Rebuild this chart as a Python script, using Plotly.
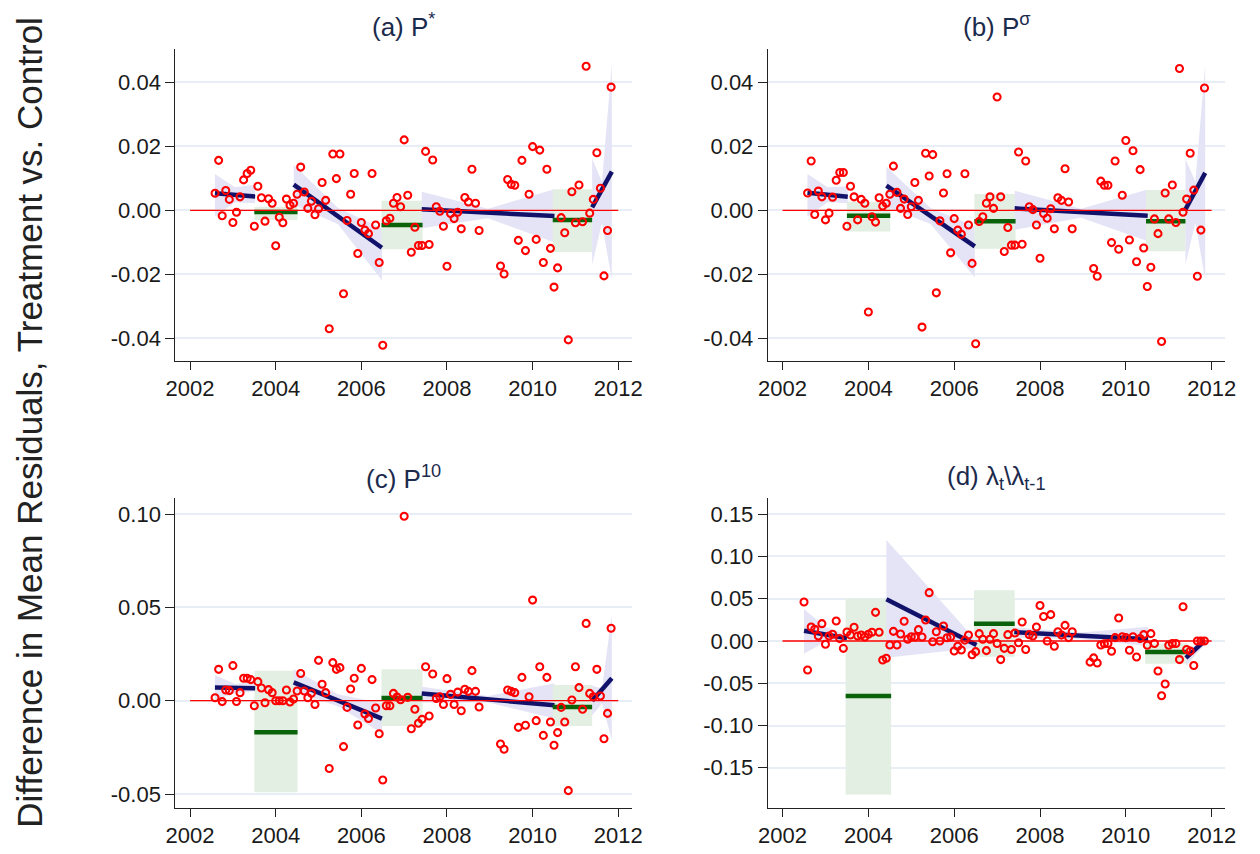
import plotly.graph_objects as go

# ---------------------------------------------------------------------------
# Monthly differences in mean residuals (treatment minus control)
# ---------------------------------------------------------------------------
START_ABC = "2002-08"   # first month for panels (a)-(c)
START_D = "2002-07"     # first month for panel (d)

P_STAR = [0.0053, 0.0156, -0.0017, 0.0062, 0.0034, -0.0038, -0.0006, 0.0042, 0.0095, 0.0115,
          0.0125, -0.0050, 0.0075, 0.0039, -0.0034, 0.0036, 0.0022, -0.0111, -0.0022, -0.0039,
          0.0035, 0.0016, 0.0022, 0.0050, 0.0135, 0.0057, 0.0006, 0.0028, -0.0014, 0.0005,
          0.0087, 0.0031, -0.0370, 0.0176, 0.0099, 0.0176, -0.0261, -0.0032, 0.0050, 0.0115,
          -0.0135, -0.0038, -0.0062, -0.0073, 0.0115, -0.0046, -0.0163, -0.0422, -0.0033, -0.0025,
          0.0022, 0.0040, 0.0011, 0.0220, 0.0047, -0.0131, -0.0053, -0.0110, -0.0110, 0.0184,
          -0.0107, 0.0157, 0.0011, -0.0003, -0.0050, -0.0175, -0.0010, -0.0026, -0.0006, -0.0058,
          0.0040, 0.0026, 0.0128, 0.0022, -0.0063, None, None, None, None, None,
          -0.0174, -0.0199, 0.0096, 0.0081, 0.0078, -0.0094, 0.0156, -0.0126, 0.0050, 0.0199,
          -0.0091, 0.0188, -0.0163, 0.0128, -0.0119, -0.0240, -0.0180, -0.0023, -0.0070, -0.0405,
          0.0058, -0.0039, 0.0079, -0.0036, 0.0450, -0.0009, 0.0034, 0.0180, 0.0069, -0.0205,
          -0.0063, 0.0385]

P_SIGMA = [0.0054, 0.0154, -0.0013, 0.0060, 0.0042, -0.0030, -0.0009, 0.0041, 0.0094, 0.0118,
           0.0118, -0.0050, 0.0075, 0.0042, -0.0030, 0.0034, 0.0022, -0.0318, -0.0020, -0.0037,
           0.0039, 0.0013, 0.0022, 0.0050, 0.0138, 0.0056, 0.0006, 0.0035, -0.0013, 0.0011,
           0.0087, 0.0031, -0.0365, 0.0178, 0.0107, 0.0174, -0.0258, -0.0033, 0.0054, 0.0114,
           -0.0133, -0.0026, -0.0062, -0.0075, 0.0114, -0.0046, -0.0166, -0.0417, -0.0035, -0.0020,
           0.0022, 0.0042, 0.0006, 0.0354, 0.0042, -0.0129, -0.0054, -0.0109, -0.0109, 0.0182,
           -0.0106, 0.0154, 0.0011, 0.0002, -0.0046, -0.0150, -0.0010, -0.0025, 0.0005, -0.0058,
           0.0039, 0.0031, 0.0130, 0.0026, -0.0058, None, None, None, None, None,
           -0.0182, -0.0206, 0.0091, 0.0078, 0.0078, -0.0101, 0.0154, -0.0122, 0.0047, 0.0218,
           -0.0093, 0.0186, -0.0161, 0.0127, -0.0118, -0.0238, -0.0178, -0.0027, -0.0073, -0.0410,
           0.0054, -0.0027, 0.0079, -0.0038, 0.0443, -0.0006, 0.0035, 0.0178, 0.0063, -0.0206,
           -0.0062, 0.0382]

P_TEN = [0.0016, 0.0168, -0.0005, 0.0057, 0.0054, 0.0188, -0.0004, 0.0043, 0.0120, 0.0120,
         0.0113, -0.0027, 0.0102, 0.0068, -0.0011, 0.0059, 0.0043, 0.0000, 0.0000, 0.0000,
         0.0057, -0.0007, 0.0009, 0.0052, 0.0146, 0.0052, 0.0016, 0.0040, -0.0020, 0.0216,
         0.0088, 0.0043, -0.0363, 0.0204, 0.0168, 0.0177, -0.0246, -0.0036, 0.0063, 0.0120,
         -0.0130, 0.0173, -0.0071, -0.0095, 0.0113, -0.0039, -0.0177, -0.0425, -0.0027, -0.0027,
         0.0039, 0.0020, 0.0005, 0.0988, 0.0018, -0.0150, -0.0046, -0.0121, -0.0100, 0.0182,
         -0.0082, 0.0143, 0.0012, 0.0021, -0.0020, 0.0118, 0.0034, -0.0020, 0.0046, -0.0054,
         0.0061, 0.0050, 0.0161, 0.0050, -0.0034, None, None, None, None, None,
         -0.0232, -0.0260, 0.0057, 0.0050, 0.0043, -0.0143, 0.0125, -0.0132, 0.0021, 0.0539,
         -0.0107, 0.0182, -0.0186, 0.0125, -0.0114, -0.0239, -0.0171, -0.0036, -0.0114, -0.0482,
         0.0004, 0.0182, 0.0070, -0.0046, 0.0414, 0.0039, 0.0021, 0.0168, 0.0025, -0.0204,
         -0.0068, 0.0388]

LAMBDA_RATIO = [0.0462, -0.0343, 0.0166, 0.0138, 0.0059, 0.0205, -0.0039, 0.0059, 0.0080, 0.0237,
                0.0028, -0.0087, 0.0107, 0.0071, 0.0162, 0.0059, 0.0071, 0.0047, 0.0080, 0.0103,
                0.0339, 0.0103, -0.0225, -0.0205, -0.0047, 0.0114, -0.0047, 0.0083, 0.0233, 0.0020,
                0.0050, 0.0047, 0.0134, 0.0047, 0.0249, 0.0572, -0.0008, 0.0110, 0.0000, 0.0178,
                0.0039, 0.0047, -0.0118, -0.0063, -0.0107, 0.0010, 0.0071, -0.0162, -0.0126, 0.0087,
                0.0020, -0.0114, 0.0020, 0.0087, -0.0030, -0.0220, -0.0087, 0.0075, -0.0100, 0.0095,
                -0.0020, 0.0225, -0.0100, 0.0075, 0.0060, 0.0166, 0.0420, 0.0290, 0.0000, 0.0312,
                -0.0063, 0.0110, 0.0070, 0.0185, 0.0040, 0.0110, None, None, None, None,
                -0.0250, -0.0200, -0.0260, -0.0047, -0.0032, -0.0030, -0.0122, 0.0040, 0.0272, 0.0050,
                0.0040, -0.0110, 0.0050, -0.0190, 0.0030, 0.0075, -0.0050, 0.0087, -0.0030, -0.0355,
                -0.0647, -0.0509, -0.0050, -0.0030, -0.0030, -0.0220, 0.0406, -0.0100, -0.0120, -0.0290,
                0.0000, 0.0000, 0.0000]

# ---------------------------------------------------------------------------
# Fitted pieces: linear trends outside the windows, means inside them
# ---------------------------------------------------------------------------
SEG_KIND = ["trend", "mean", "trend", "mean", "trend", "mean", "trend"]
SEG_X0 = [2002.58, 2003.50, 2004.42, 2006.47, 2007.41, 2010.47, 2011.39]
SEG_X1 = [2003.52, 2004.51, 2006.48, 2007.43, 2010.51, 2011.39, 2011.85]
SEG_X0_D = [2002.50, 2003.47, 2004.42, 2006.46, 2007.40, 2010.45, 2011.40]
SEG_X1_D = [2003.50, 2004.53, 2006.52, 2007.41, 2010.52, 2011.44, 2011.83]

# fitted value at the start / end of each piece
A_FIT0 = [0.0053, -0.0005, 0.0080, -0.0046, 0.0003, -0.0030, 0.0009]
A_FIT1 = [0.0043, -0.0005, -0.0117, -0.0046, -0.0018, -0.0030, 0.0121]
B_FIT0 = [0.0055, -0.0017, 0.0077, -0.0034, 0.0006, -0.0034, 0.0003]
B_FIT1 = [0.0042, -0.0017, -0.0113, -0.0034, -0.0017, -0.0034, 0.0117]
C_FIT0 = [0.0070, -0.0169, 0.0098, 0.0014, 0.0039, -0.0034, 0.0000]
C_FIT1 = [0.0067, -0.0169, -0.0096, 0.0014, -0.0025, -0.0034, 0.0120]
D_FIT0 = [0.0122, -0.0650, 0.0493, 0.0205, 0.0106, -0.0130, -0.0200]
D_FIT1 = [0.0032, -0.0650, -0.0047, 0.0205, 0.0020, -0.0130, 0.0000]

# confidence limits at (start, middle, end) of each piece
A_LO = [(-0.0020, 0.0025, 0.0022), (-0.0030, -0.0030, -0.0030), (0.0017, -0.0043, -0.0219),
        (-0.0122, -0.0122, -0.0122), (-0.0056, -0.0025, -0.0101), (-0.0130, -0.0130, -0.0130),
        (-0.0170, -0.0040, -0.0218)]
A_HI = [(0.0113, 0.0072, 0.0080), (0.0010, 0.0010, 0.0010), (0.0142, 0.0008, -0.0057),
        (0.0030, 0.0030, 0.0030), (0.0058, 0.0005, 0.0066), (0.0066, 0.0066, 0.0066),
        (0.0160, 0.0090, 0.0458)]
B_LO = [(-0.0020, 0.0025, 0.0022), (-0.0066, -0.0066, -0.0066), (0.0011, -0.0043, -0.0210),
        (-0.0120, -0.0120, -0.0120), (-0.0061, -0.0023, -0.0097), (-0.0128, -0.0128, -0.0128),
        (-0.0170, -0.0040, -0.0216)]
B_HI = [(0.0113, 0.0072, 0.0075), (0.0027, 0.0027, 0.0027), (0.0136, 0.0007, -0.0050),
        (0.0051, 0.0051, 0.0051), (0.0061, 0.0005, 0.0065), (0.0063, 0.0063, 0.0063),
        (0.0160, 0.0090, 0.0454)]
C_LO = [(0.0004, 0.0040, 0.0050), (-0.0490, -0.0490, -0.0490), (0.0050, -0.0030, -0.0175),
        (-0.0136, -0.0136, -0.0136), (-0.0010, -0.0010, -0.0095), (-0.0136, -0.0136, -0.0136),
        (-0.0080, -0.0015, -0.0210)]
C_HI = [(0.0137, 0.0090, 0.0103), (0.0160, 0.0160, 0.0160), (0.0170, 0.0035, -0.0014),
        (0.0168, 0.0168, 0.0168), (0.0075, 0.0025, 0.0093), (0.0084, 0.0084, 0.0084),
        (0.0080, 0.0065, 0.0460)]
D_LO = [(-0.0150, -0.0010, 0.0000), (-0.1815, -0.1815, -0.1815), (-0.0197, -0.0140, -0.0080),
        (-0.0185, -0.0185, -0.0185), (0.0040, 0.0020, -0.0060), (-0.0270, -0.0270, -0.0270),
        (-0.0300, -0.0170, -0.0050)]
D_HI = [(0.0375, 0.0170, 0.0070), (0.0500, 0.0500, 0.0500), (0.1195, 0.0600, 0.0000),
        (0.0600, 0.0600, 0.0600), (0.0160, 0.0100, 0.0170), (-0.0030, -0.0030, -0.0030),
        (-0.0100, -0.0050, 0.0050)]

TITLES = ["(a) P<sup>*</sup>", "(b) P<sup>σ</sup>", "(c) P<sup>10</sup>",
          "(d) λ<sub>t</sub>\\λ<sub>t-1</sub>"]
Y_LABEL = "Difference in Mean Residuals, Treatment vs. Control"

X_TICKS = [2002, 2004, 2006, 2008, 2010, 2012]
Y_TICKS_AB = [-0.04, -0.02, 0.0, 0.02, 0.04]
Y_TICKS_C = [-0.05, 0.0, 0.05, 0.10]
Y_TICKS_D = [-0.15, -0.10, -0.05, 0.0, 0.05, 0.10, 0.15]

# ---------------------------------------------------------------------------
W, H = 1260, 854
FONT = "Liberation Sans, Arial, sans-serif"
TREND_BAND = "#e4e4f6"
MEAN_BAND = "#e3efe2"
TREND_LINE = "#12126a"
MEAN_LINE = "#0a620a"
TEXT_DARK = "#1a1a1a"
TITLE_COLOR = "#1c2a4c"


def month_positions(start, n):
    y, m = map(int, start.split("-"))
    return [y + (m - 1 + k) / 12 for k in range(n)]


def px_x(p):
    return p / W


def px_y(p):
    return 1 - p / H


def fmt(v):
    return f"{v:.2f}"


panels = [
    dict(vals=P_STAR, start=START_ABC, x0=SEG_X0, x1=SEG_X1, f0=A_FIT0, f1=A_FIT1,
         lo=A_LO, hi=A_HI, xdom=(169, 633), ydom=(49, 361), yr=(-0.0471, 0.0504),
         yt=Y_TICKS_AB, title_y=25),
    dict(vals=P_SIGMA, start=START_ABC, x0=SEG_X0, x1=SEG_X1, f0=B_FIT0, f1=B_FIT1,
         lo=B_LO, hi=B_HI, xdom=(771, 1236), ydom=(49, 361), yr=(-0.0471, 0.0504),
         yt=Y_TICKS_AB, title_y=25),
    dict(vals=P_TEN, start=START_ABC, x0=SEG_X0, x1=SEG_X1, f0=C_FIT0, f1=C_FIT1,
         lo=C_LO, hi=C_HI, xdom=(169, 633), ydom=(498, 808), yr=(-0.0575, 0.1086),
         yt=Y_TICKS_C, title_y=478),
    dict(vals=LAMBDA_RATIO, start=START_D, x0=SEG_X0_D, x1=SEG_X1_D, f0=D_FIT0, f1=D_FIT1,
         lo=D_LO, hi=D_HI, xdom=(771, 1236), ydom=(498, 808), yr=(-0.1976, 0.1692),
         yt=Y_TICKS_D, title_y=478),
]

fig = go.Figure()
layout = dict(
    width=W, height=H, margin=dict(l=0, r=0, t=0, b=0),
    paper_bgcolor="white", plot_bgcolor="white", showlegend=False,
    font=dict(family=FONT, color=TEXT_DARK),
)
annotations = []

for n, p in enumerate(panels, start=1):
    xa, ya = f"x{n}", f"y{n}"
    xs = month_positions(p["start"], len(p["vals"]))

    # confidence bands
    for k, kind in enumerate(SEG_KIND):
        a, b = p["x0"][k], p["x1"][k]
        m = (a + b) / 2
        lo, hi = p["lo"][k], p["hi"][k]
        fig.add_trace(go.Scatter(
            x=[a, m, b, b, m, a], y=[hi[0], hi[1], hi[2], lo[2], lo[1], lo[0]],
            xaxis=xa, yaxis=ya, mode="lines", fill="toself", line=dict(width=0),
            fillcolor=TREND_BAND if kind == "trend" else MEAN_BAND, hoverinfo="skip"))

    # fitted lines
    for k, kind in enumerate(SEG_KIND):
        fig.add_trace(go.Scatter(
            x=[p["x0"][k], p["x1"][k]], y=[p["f0"][k], p["f1"][k]],
            xaxis=xa, yaxis=ya, mode="lines",
            line=dict(color=TREND_LINE if kind == "trend" else MEAN_LINE, width=4.5)))

    # zero reference
    fig.add_trace(go.Scatter(x=[2002, 2012], y=[0, 0], xaxis=xa, yaxis=ya, mode="lines",
                             line=dict(color="#ff0000", width=1.3)))

    # monthly observations
    fig.add_trace(go.Scatter(
        x=xs, y=p["vals"], xaxis=xa, yaxis=ya, mode="markers",
        marker=dict(symbol="circle-open", size=7, color="#ff0000",
                    line=dict(width=2.1, color="#ff0000"))))

    suffix = "" if n == 1 else str(n)
    layout["xaxis" + suffix] = dict(
        domain=[px_x(p["xdom"][0]), px_x(p["xdom"][1])], anchor=ya,
        range=[2001.655, 2012.32], tickvals=X_TICKS, ticktext=[str(t) for t in X_TICKS],
        showgrid=False, zeroline=False, showline=True, linecolor="#222222", linewidth=1,
        ticks="outside", ticklen=8, tickwidth=1, tickcolor="#222222",
        tickfont=dict(size=22, color=TEXT_DARK, family=FONT))
    layout["yaxis" + suffix] = dict(
        domain=[px_y(p["ydom"][1]), px_y(p["ydom"][0])], anchor=xa,
        range=list(p["yr"]), tickvals=p["yt"], ticktext=[fmt(t) for t in p["yt"]],
        showgrid=True, gridcolor="#e8eef5", gridwidth=2, zeroline=False,
        showline=True, linecolor="#222222", linewidth=1,
        ticks="outside", ticklen=9, tickwidth=1, tickcolor="#222222",
        tickfont=dict(size=22, color=TEXT_DARK, family=FONT))

    annotations.append(dict(
        text=TITLES[n - 1], xref="paper", yref="paper",
        x=px_x((p["xdom"][0] + p["xdom"][1]) / 2), y=px_y(p["title_y"]),
        xanchor="center", yanchor="middle", showarrow=False,
        font=dict(size=26, color=TITLE_COLOR, family=FONT)))

annotations.append(dict(
    text=Y_LABEL, xref="paper", yref="paper", x=px_x(20), y=px_y(422),
    xanchor="center", yanchor="middle", textangle=-90, showarrow=False,
    font=dict(size=35, color="#222222", family=FONT)))

layout["annotations"] = annotations
fig.update_layout(**layout)
fig.write_html("out.html")
